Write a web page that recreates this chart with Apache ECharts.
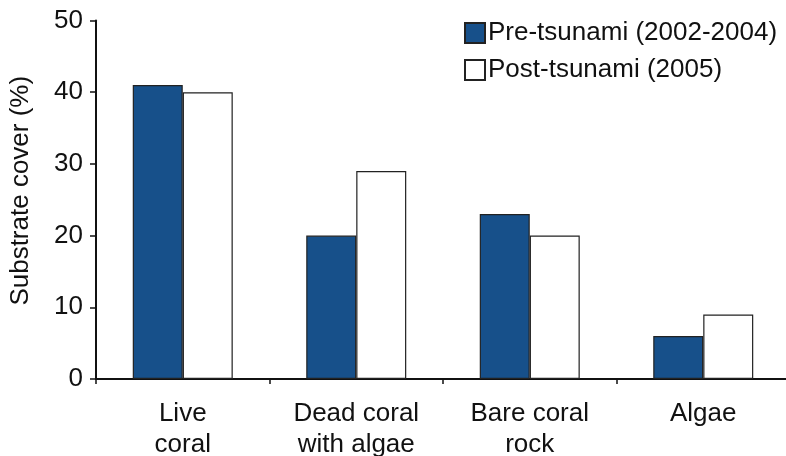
<!DOCTYPE html>
<html><head><meta charset="utf-8">
<script src="https://cdn.jsdelivr.net/npm/echarts@6/dist/echarts.min.js"></script>
<style>html,body{margin:0;padding:0;background:#fff;overflow:hidden}#c{width:786px;height:456px}</style>
</head><body><div id="c"></div>
<script>
const categories = ['Live\ncoral', 'Dead coral\nwith algae', 'Bare coral\nrock', 'Algae'];
const preTsunami = [41, 20, 23, 6];
const postTsunami = [40, 29, 20, 9];
const yTicks = [0, 10, 20, 30, 40, 50];
const seriesNames = ['Pre-tsunami (2002-2004)', 'Post-tsunami (2005)'];

const chart = echarts.init(document.getElementById('c'), null, {renderer: 'canvas'});
const font = 'Liberation Sans, Arial, Helvetica, sans-serif';
chart.setOption({
  animation: false,
  backgroundColor: '#fff',
  textStyle: {fontFamily: font},
  grid: {left: 96, right: -4, top: 20.5, bottom: 77, containLabel: false, outerBoundsMode: 'none'},
  legend: {
    orient: 'vertical', left: 459, top: 15,
    itemWidth: 20, itemHeight: 20, itemGap: 11,
    icon: 'rect',
    textStyle: {fontSize: 26, color: '#111', fontFamily: font, padding: [0, 0, 0, -2]},
    data: seriesNames
  },
  xAxis: {
    type: 'category', data: categories,
    axisLine: {lineStyle: {color: '#111', width: 2}},
    axisTick: {show: true, length: 5, alignWithLabel: false, lineStyle: {color: '#111', width: 1.5}},
    axisLabel: {fontSize: 26, color: '#111', margin: 19, lineHeight: 31, fontFamily: font}
  },
  yAxis: {
    type: 'value', min: yTicks[0], max: yTicks[yTicks.length - 1], interval: 10,
    name: 'Substrate cover (%)', nameLocation: 'middle', nameGap: 62, nameRotate: 90,
    nameTextStyle: {fontSize: 26, color: '#111', fontFamily: font, padding: [0, 0, 0, 18]},
    splitLine: {show: false},
    axisLine: {show: true, lineStyle: {color: '#111', width: 2}},
    axisTick: {show: true, length: 6, inside: false, lineStyle: {color: '#111', width: 1.5}},
    axisLabel: {fontSize: 26, color: '#111', margin: 13, fontFamily: font}
  },
  series: [
    {name: seriesNames[0], type: 'bar', data: preTsunami, barWidth: 50, barGap: '0%',
     itemStyle: {color: '#17508a', borderColor: '#222', borderWidth: 1.2}},
    {name: seriesNames[1], type: 'bar', data: postTsunami, barWidth: 50, barGap: '0%',
     itemStyle: {color: '#ffffff', borderColor: '#222', borderWidth: 1.2}}
  ]
});
</script></body></html>
